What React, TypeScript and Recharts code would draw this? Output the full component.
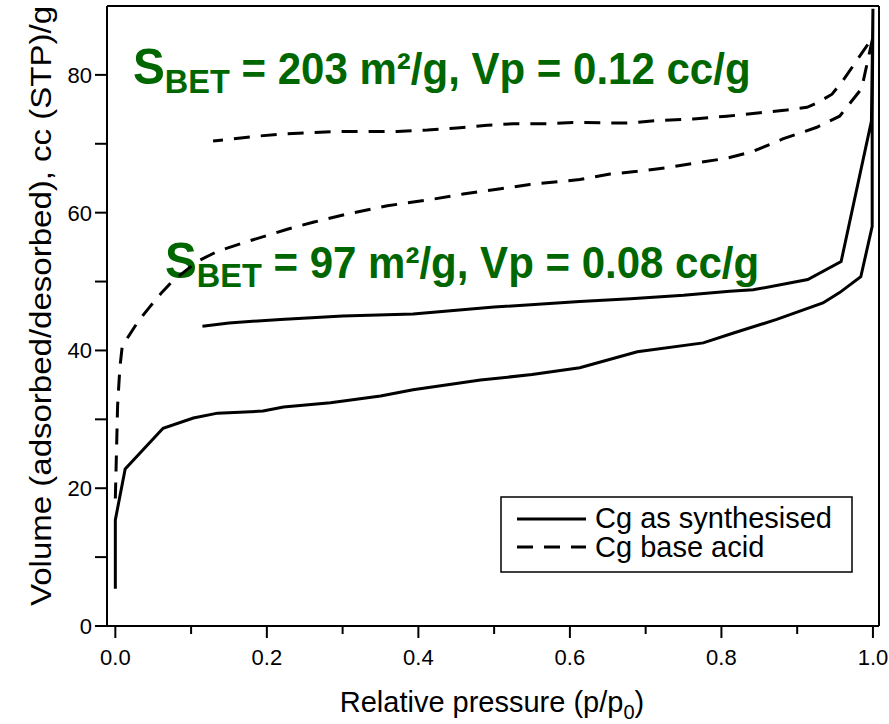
import { Customized, Line, LineChart, ReferenceLine, XAxis, YAxis } from 'recharts';

// Cg as synthesised: adsorption branch then desorption branch
const synthAdsP = [0.0, 0.0, 0.013, 0.063, 0.103, 0.135, 0.195, 0.222, 0.284, 0.35, 0.393, 0.482, 0.55, 0.613, 0.689, 0.776, 0.815, 0.873, 0.934, 0.956, 0.984, 0.999, 0.999, 1.0];
const synthAdsV = [5.4, 15.4, 22.8, 28.7, 30.2, 30.9, 31.2, 31.8, 32.4, 33.4, 34.3, 35.7, 36.5, 37.5, 39.8, 41.1, 42.5, 44.5, 46.9, 48.4, 50.7, 58.0, 73.0, 89.6];
const synthDesP = [0.998, 0.958, 0.914, 0.842, 0.811, 0.75, 0.68, 0.613, 0.5, 0.393, 0.3, 0.218, 0.15, 0.115];
const synthDesV = [73.3, 52.9, 50.3, 48.8, 48.6, 48.0, 47.5, 47.1, 46.3, 45.3, 45.0, 44.5, 44.0, 43.5];

// Cg base acid
const acidAdsP = [0.0, 0.003, 0.006, 0.009, 0.016, 0.03, 0.046, 0.062, 0.075, 0.108, 0.135, 0.174, 0.227, 0.261, 0.306, 0.359, 0.416, 0.459, 0.504, 0.547, 0.613, 0.653, 0.689, 0.732, 0.772, 0.807, 0.842, 0.881, 0.926, 0.956, 0.985, 1.0];
const acidAdsV = [18.5, 32.0, 37.5, 40.5, 41.8, 44.2, 46.4, 48.5, 50.0, 52.9, 54.4, 55.8, 57.6, 58.6, 59.8, 61.0, 61.9, 62.7, 63.4, 64.1, 64.8, 65.6, 66.0, 66.6, 67.3, 67.9, 68.9, 70.7, 72.4, 74.0, 78.0, 85.5];
const acidDesP = [0.96, 0.946, 0.926, 0.913, 0.886, 0.851, 0.807, 0.763, 0.719, 0.675, 0.604, 0.57, 0.525, 0.491, 0.451, 0.412, 0.372, 0.293, 0.218, 0.187, 0.129];
const acidDesV = [79.1, 77.2, 75.9, 75.3, 74.9, 74.5, 74.0, 73.6, 73.4, 73.0, 73.1, 72.9, 72.9, 72.7, 72.3, 72.0, 71.8, 71.8, 71.4, 71.1, 70.4];

const xTicks = [0, 0.1, 0.2, 0.3, 0.4, 0.5, 0.6, 0.7, 0.8, 0.9, 1.0];
const yTicks = [0, 10, 20, 30, 40, 50, 60, 70, 80];

const seriesNames = ['Cg as synthesised', 'Cg base acid'];
const notes = [
  { area: '203', vp: '0.12' },
  { area: '97', vp: '0.08' },
];

const toPoints = (p: number[], v: number[]) => p.map((x, i) => ({ x, y: v[i] }));

const synthData = [...toPoints(synthAdsP, synthAdsV), ...toPoints(synthDesP, synthDesV)];
const acidData = [...toPoints(acidAdsP, acidAdsV), ...toPoints(acidDesP, acidDesV)];

const FONT = '"Liberation Sans", Arial, sans-serif';
const GREEN = '#006600';
const DASH = '16 11';

function XTick({ x, y, payload }: any) {
  const major = Math.round(payload.value * 10) % 2 === 0;
  return (
    <g>
      <line x1={x} x2={x} y1={y} y2={y + (major ? 12 : 8)} stroke="#000" strokeWidth={2} />
      {major && (
        <text x={x} y={y + 39} textAnchor="middle" fontSize={22} fontFamily={FONT} fill="#000">
          {payload.value.toFixed(1)}
        </text>
      )}
    </g>
  );
}

function YTick({ x, y, payload }: any) {
  const major = payload.value % 20 === 0;
  return (
    <g>
      <line x1={x} x2={x - 12} y1={y} y2={y} stroke="#000" strokeWidth={2} />
      {major && (
        <text x={x - 15} y={y + 8} textAnchor="end" fontSize={22} fontFamily={FONT} fill="#000">
          {payload.value}
        </text>
      )}
    </g>
  );
}

function Overlay() {
  return (
    <g fontFamily={FONT}>
      {notes.map((n, i) => {
        const tx = i === 0 ? 133 : 165;
        const ty = i === 0 ? 84 : 278;
        return (
          <text
            key={i}
            transform={`translate(${tx}, ${ty}) scale(0.955, 1)`}
            fill={GREEN}
            fontWeight="bold"
            fontSize={50}
          >
            S
            <tspan fontSize={34} dy={9}>BET</tspan>
            <tspan fontSize={44} dy={-9}>{` = ${n.area} m²/g, Vp = ${n.vp} cc/g`}</tspan>
          </text>
        );
      })}
      <text
        transform="translate(51, 306) rotate(-90)"
        textAnchor="middle"
        fontSize={29}
        textLength={600}
        lengthAdjust="spacingAndGlyphs"
        fill="#000"
      >
        Volume (adsorbed/desorbed), cc (STP)/g
      </text>
      <text x={492} y={712} textAnchor="middle" fontSize={29} fill="#000">
        Relative pressure (p/p<tspan fontSize={20} dy={7}>0</tspan>
        <tspan dy={-7}>)</tspan>
      </text>
      <g transform="translate(501, 497)">
        <rect x={0} y={0} width={351} height={75} fill="#fff" stroke="#000" strokeWidth={1.5} />
        <line x1={16} x2={85} y1={22} y2={22} stroke="#000" strokeWidth={3} />
        <line x1={16} x2={85} y1={50} y2={50} stroke="#000" strokeWidth={3} strokeDasharray={DASH} />
        <text x={94} y={31} fontSize={29} fill="#000">{seriesNames[0]}</text>
        <text x={94} y={60} fontSize={29} fill="#000">{seriesNames[1]}</text>
      </g>
    </g>
  );
}

export default function App() {
  return (
    <div style={{ position: 'absolute', left: 0, top: 0, width: 889, height: 724, background: '#fff' }}>
      <LineChart width={889} height={724} margin={{ top: 6, right: 10, left: 47, bottom: 38 }}>
        <XAxis
          type="number"
          dataKey="x"
          domain={[-0.011, 1.008]}
          ticks={xTicks}
          interval={0}
          allowDataOverflow
          tick={<XTick />}
          tickLine={false}
          tickSize={0}
          tickMargin={0}
          axisLine={{ stroke: '#000', strokeWidth: 2 }}
          height={60}
        />
        <YAxis
          type="number"
          dataKey="y"
          domain={[0, 90]}
          ticks={yTicks}
          interval={0}
          allowDataOverflow
          tick={<YTick />}
          tickLine={false}
          tickSize={0}
          tickMargin={0}
          axisLine={{ stroke: '#000', strokeWidth: 2 }}
          width={60}
        />
        <ReferenceLine y={90} stroke="#000" strokeWidth={2} />
        <ReferenceLine x={1.008} stroke="#000" strokeWidth={2} />
        <Line
          data={synthData}
          dataKey="y"
          name={seriesNames[0]}
          type="linear"
          stroke="#000"
          strokeWidth={3}
          dot={false}
          isAnimationActive={false}
        />
        <Line
          data={acidData}
          dataKey="y"
          name={seriesNames[1]}
          type="linear"
          stroke="#000"
          strokeWidth={3}
          strokeDasharray={DASH}
          dot={false}
          isAnimationActive={false}
        />
        <Customized component={Overlay} />
      </LineChart>
    </div>
  );
}
